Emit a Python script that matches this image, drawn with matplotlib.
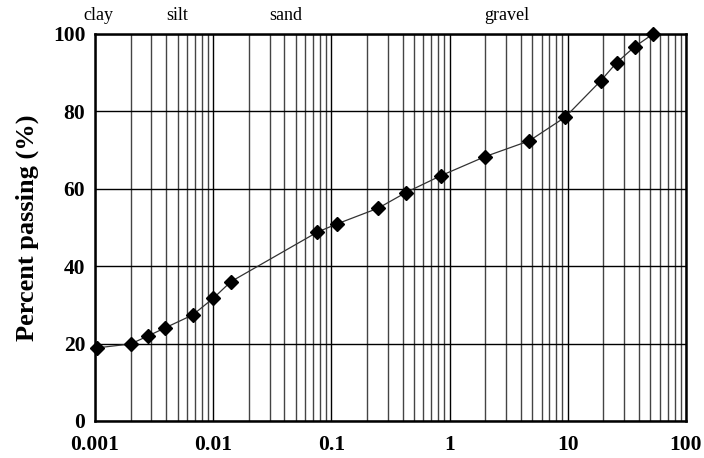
import matplotlib
matplotlib.use("Agg")
import matplotlib.pyplot as plt
from matplotlib.ticker import LogLocator, FixedLocator, NullFormatter

grain_size = [0.00104, 0.0020, 0.00282, 0.00394, 0.0067, 0.0100, 0.0141,
              0.076, 0.111, 0.249, 0.425, 0.846, 1.99, 4.73, 9.5,
              19.0, 25.9, 36.8, 52.6]
percent_passing = [18.9, 19.9, 22.0, 24.1, 27.4, 31.7, 36.0,
                   48.8, 50.9, 55.0, 59.0, 63.4, 68.3, 72.4, 78.5,
                   87.9, 92.6, 96.7, 100.0]
x_ticks = [0.001, 0.01, 0.1, 1, 10, 100]
x_tick_labels = ["0.001", "0.01", "0.1", "1", "10", "100"]
y_ticks = [0, 20, 40, 60, 80, 100]
soil_labels = ["clay", "silt", "sand", "gravel"]
soil_label_pos = [0.00079, 0.0040, 0.0297, 1.96]

plt.rcParams['font.family'] = ['Liberation Serif', 'DejaVu Serif']

fig = plt.figure(figsize=(7.04, 4.58), dpi=100)
ax = fig.add_axes([0.135, 0.0808, 0.8394, 0.845])

ax.set_xscale('log')
ax.set_xlim(0.001, 100)
ax.set_ylim(0, 100)

ax.xaxis.set_major_locator(FixedLocator(x_ticks))
ax.set_xticklabels(x_tick_labels)
ax.xaxis.set_minor_locator(LogLocator(base=10, subs=range(2, 10), numticks=50))
ax.xaxis.set_minor_formatter(NullFormatter())
ax.set_yticks(y_ticks)

ax.grid(which='major', axis='x', color='black', lw=1.0)
ax.grid(which='minor', axis='x', color='#444444', lw=1.0)
ax.grid(which='major', axis='y', color='black', lw=1.0)
ax.set_axisbelow(True)

ax.tick_params(which='both', length=0, labelsize=15.5)
ax.tick_params(axis='x', pad=10)
ax.tick_params(axis='y', pad=7)
for lab in ax.get_xticklabels() + ax.get_yticklabels():
    lab.set_fontweight('bold')

for sp in ax.spines.values():
    sp.set_linewidth(1.8)
    sp.set_color('black')

ax.plot(grain_size, percent_passing, color='#333333', lw=0.9,
        marker='D', markersize=7, markerfacecolor='black',
        markeredgecolor='black', zorder=5, clip_on=False)

ax.set_ylabel("Percent passing (%)", fontsize=19, fontweight='bold', labelpad=10)

for name, xp in zip(soil_labels, soil_label_pos):
    ax.text(xp, 103.6, name, fontsize=13, ha='left', va='baseline')

fig.savefig("out.png", dpi=100)
